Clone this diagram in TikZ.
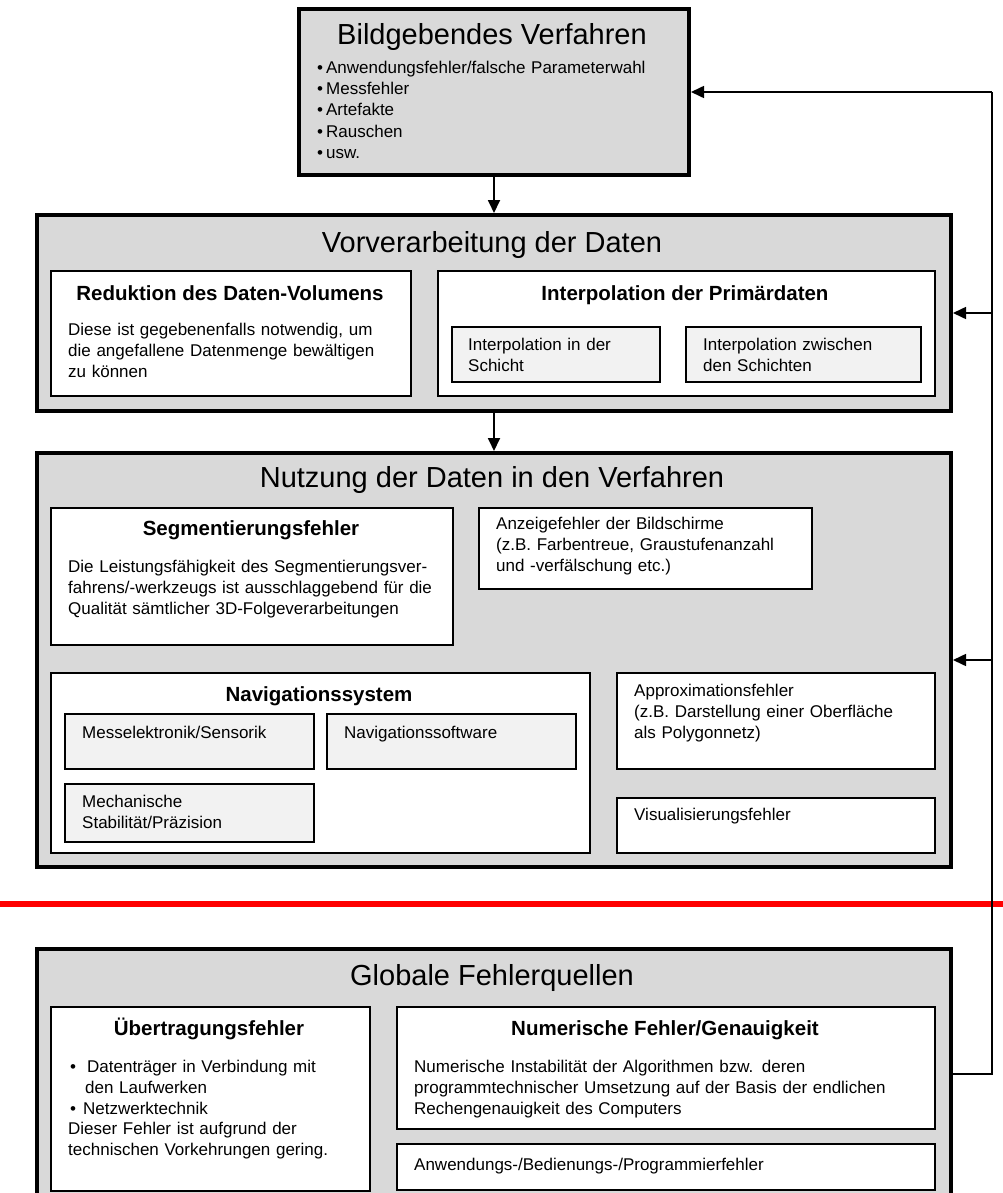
\documentclass[tikz,border=0pt]{standalone}
\usepackage{fontspec}
\setmainfont{Liberation Sans}
\usetikzlibrary{arrows.meta}
\definecolor{panelgray}{HTML}{D9D9D9}
\definecolor{subgray}{HTML}{F2F2F2}
\definecolor{sepred}{HTML}{FF0000}
\begin{document}
\begin{tikzpicture}[x=1pt,y=-1pt,
  outerbox/.style={draw=black, line width=4pt, fill=panelgray, anchor=north west, inner sep=0pt},
  innerbox/.style={draw=black, line width=2pt, fill=white, anchor=north west, inner sep=0pt},
  subbox/.style={draw=black, line width=2pt, fill=subgray, anchor=north west, inner sep=0pt},
  headtext/.style={font=\fontsize{29}{34}\selectfont, anchor=base, inner sep=0pt},
  subhead/.style={font=\fontsize{20.5}{24}\selectfont\bfseries, anchor=base, inner sep=0pt},
  bodytext/.style={font=\fontsize{17}{20.8}\selectfont, anchor=base west, inner sep=0pt, align=left, text width=480pt},
  link/.style={line width=1.8pt, -{Triangle[length=13pt,width=12pt]}},
  rail/.style={line width=1.6pt},
]
\useasboundingbox (0,0) rectangle (1003,1193);
\clip (0,0) rectangle (1003,1193);
\fill[white] (0,0) rectangle (1003,1193);

% --- imaging stage ---
\node (top) [outerbox, minimum width=390pt, minimum height=166pt] at (297,7) {};
\node (topT) [headtext] at (492,45) {Bildgebendes Verfahren};
\node (topL) [bodytext, font=\fontsize{17}{21.2}\selectfont] at (317,73.5)
  {•\hspace{3pt}Anwendungsfehler/falsche Parameterwahl\\
   •\hspace{3pt}Messfehler\\
   •\hspace{3pt}Artefakte\\
   •\hspace{3pt}Rauschen\\
   •\hspace{3pt}usw.};

% --- preprocessing stage ---
\node (V) [outerbox, minimum width=914pt, minimum height=196pt] at (35,213) {};
\node (VT) [headtext] at (492,252) {Vorverarbeitung der Daten};

\node (R) [innerbox, minimum width=360pt, minimum height=125pt] at (50,270) {};
\node (RT) [subhead] at (230,300) {Reduktion des Daten-Volumens};
\node (RL) [bodytext] at (68,335.5)
  {Diese ist gegebenenfalls notwendig, um\\
   die angefallene Datenmenge bewältigen\\
   zu können};

\node (I) [innerbox, minimum width=497pt, minimum height=125pt] at (437,270) {};
\node (IT) [subhead] at (685,300) {Interpolation der Primärdaten};
\node (I1) [subbox, minimum width=208pt, minimum height=55pt] at (451,326) {};
\node (I1L) [bodytext] at (468,350.5) {Interpolation in der\\Schicht};
\node (I2) [subbox, minimum width=235pt, minimum height=55pt] at (685,326) {};
\node (I2L) [bodytext] at (703,350.5) {Interpolation zwischen\\den Schichten};

% --- usage stage ---
\node (N) [outerbox, minimum width=914pt, minimum height=414pt] at (35,451) {};
\node (NT) [headtext] at (492,487) {Nutzung der Daten in den Verfahren};

\node (S) [innerbox, minimum width=402pt, minimum height=137pt] at (50,507) {};
\node (ST) [subhead] at (251,535) {Segmentierungsfehler};
\node (SL) [bodytext] at (68,572.5)
  {Die Leistungsfähigkeit des Segmentierungsver-\\
   fahrens/-werkzeugs ist ausschlaggebend für die\\
   Qualität sämtlicher 3D-Folgeverarbeitungen};

\node (A) [innerbox, minimum width=333pt, minimum height=81pt] at (478,507) {};
\node (AL) [bodytext] at (496,529.5)
  {Anzeigefehler der Bildschirme\\
   (z.B. Farbentreue, Graustufenanzahl\\
   und -verfälschung etc.)};

\node (Nav) [innerbox, minimum width=539pt, minimum height=180pt] at (50,672) {};
\node (NavT) [subhead] at (319,701) {Navigationssystem};
\node (Mess) [subbox, minimum width=249pt, minimum height=55pt] at (64,713) {};
\node (MessL) [bodytext] at (82,738.5) {Messelektronik/Sensorik};
\node (NSW) [subbox, minimum width=249pt, minimum height=55pt] at (326,713) {};
\node (NSWL) [bodytext] at (344,738.5) {Navigationssoftware};
\node (Mech) [subbox, minimum width=249pt, minimum height=58pt] at (64,783) {};
\node (MechL) [bodytext] at (82,807.5) {Mechanische\\Stabilität/Präzision};

\node (Ap) [innerbox, minimum width=318pt, minimum height=96pt] at (616,672) {};
\node (ApL) [bodytext] at (634,696.5)
  {Approximationsfehler\\
   (z.B. Darstellung einer Oberfläche\\
   als Polygonnetz)};
\node (Vis) [innerbox, minimum width=318pt, minimum height=55pt] at (616,797) {};
\node (VisL) [bodytext] at (634,820.5) {Visualisierungsfehler};

% --- separator ---
\coordinate (sepL) at (0,904);
\coordinate (sepR) at (1003,904);
\draw[sepred, line width=6pt] (sepL) -- (sepR);

% --- global error sources ---
\node (G) [outerbox, minimum width=914pt, minimum height=250pt] at (35,947) {};
\node (GT) [headtext] at (492,985) {Globale Fehlerquellen};

\node (U) [innerbox, minimum width=319pt, minimum height=184pt] at (50,1006) {};
\node (UT) [subhead] at (209,1035) {Übertragungsfehler};
\node (UL) [bodytext] at (68,1072.5)
  {\hspace{2pt}•\hspace{11pt}Datenträger in Verbindung mit\\
   \hspace{17pt}den Laufwerken\\
   \hspace{2pt}•\hspace{7pt}Netzwerktechnik\\
   Dieser Fehler ist aufgrund der\\
   technischen Vorkehrungen gering.};

\node (Nm) [innerbox, minimum width=538pt, minimum height=122pt] at (396,1006) {};
\node (NmT) [subhead] at (665,1035) {Numerische Fehler/Genauigkeit};
\node (NmL) [bodytext] at (414,1072.5)
  {Numerische Instabilität der Algorithmen bzw. deren\\
   programmtechnischer Umsetzung auf der Basis der endlichen\\
   Rechengenauigkeit des Computers};
\node (Aw) [innerbox, minimum width=538pt, minimum height=46pt] at (396,1143) {};
\node (AwL) [bodytext] at (414,1170.5) {Anwendungs-/Bedienungs-/Programmierfehler};

% --- flow between stages ---
\draw[link] (top.south) -- (V.north);
\draw[link] (V.south) -- (N.north);

% --- feedback rail on the right ---
\coordinate (fb) at (992,1072);
\draw[rail] (G.east) -- (G.east -| fb) -- (fb |- top.east);
\draw[link, line width=1.6pt] (fb |- top.east) -- (top.east);
\draw[link, line width=1.6pt] (fb |- V.east) -- (V.east);
\draw[link, line width=1.6pt] (fb |- N.east) -- (N.east);
\end{tikzpicture}
\end{document}
